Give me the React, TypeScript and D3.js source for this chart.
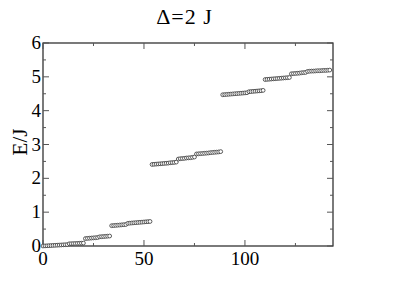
import React from 'react';
import * as d3 from 'd3';

// energy levels, one value per state index
const bandA = [0, 0.003, 0.006, 0.01, 0.013, 0.017, 0.02, 0.024, 0.027, 0.03, 0.034, 0.037, 0.04];
const bandA2 = [0.065, 0.068, 0.071, 0.074, 0.077, 0.08, 0.083, 0.086];
const bandB = [0.22, 0.225, 0.23, 0.235, 0.24, 0.245, 0.25];
const bandB2 = [0.27, 0.275, 0.28, 0.285, 0.29, 0.295];
const bandC = [0.6, 0.605, 0.61, 0.615, 0.62, 0.625, 0.63, 0.635];
const bandC2 = [0.67, 0.675, 0.68, 0.685, 0.69, 0.695, 0.7, 0.705, 0.71, 0.715, 0.72, 0.725];
const bandD = [2.41, 2.415, 2.42, 2.425, 2.43, 2.435, 2.44, 2.445, 2.45, 2.46, 2.465, 2.47, 2.48];
const bandD2 = [2.57, 2.58, 2.585, 2.59, 2.6, 2.605, 2.61, 2.62, 2.63];
const bandD3 = [2.72, 2.725, 2.73, 2.735, 2.74, 2.745, 2.75, 2.76, 2.765, 2.77, 2.775, 2.78, 2.79];
const bandE = [4.47, 4.475, 4.48, 4.485, 4.49, 4.495, 4.5, 4.505, 4.51, 4.515, 4.52, 4.525, 4.53];
const bandE2 = [4.56, 4.565, 4.57, 4.575, 4.58, 4.585, 4.59, 4.6];
const bandF = [4.92, 4.925, 4.93, 4.935, 4.94, 4.945, 4.95, 4.955, 4.96, 4.965, 4.97, 4.975, 4.98];
const bandG = [5.09, 5.095, 5.1, 5.105, 5.11, 5.12, 5.125, 5.13];
const bandG2 = [5.16, 5.165, 5.17, 5.17, 5.175, 5.18, 5.18, 5.185, 5.19, 5.19, 5.195, 5.2];

const energies = [
    ...bandA, ...bandA2, ...bandB, ...bandB2, ...bandC, ...bandC2, ...bandD,
    ...bandD2, ...bandD3, ...bandE, ...bandE2, ...bandF, ...bandG, ...bandG2,
];

const xTicks = [0, 50, 100];
const yTicks = [0, 1, 2, 3, 4, 5, 6];

const App = () => {
    const svgRef = React.useRef<SVGSVGElement>(null);

    const W = 399, H = 282;
    const margin = { top: 43, right: 66, bottom: 36, left: 43 };

    React.useEffect(() => {
        const svg = d3.select(svgRef.current);
        svg.selectAll('*').remove();

        const x = d3.scaleLinear().domain([0, 143.6]).range([margin.left, W - margin.right]);
        const y = d3.scaleLinear().domain([0, 6]).range([H - margin.bottom, margin.top]);
        const font = 'Liberation Serif, serif';
        const tickCol = '#555';

        // frame
        svg.append('rect')
            .attr('x', x(0)).attr('y', y(6))
            .attr('width', x(143.6) - x(0)).attr('height', y(0) - y(6))
            .attr('fill', 'none').attr('stroke', '#222').attr('stroke-width', 1.2);

        // x ticks (bottom + top, inward)
        d3.range(0, 143, 25).forEach((t) => {
            const len = t % 50 === 0 ? 6 : 3;
            svg.append('line').attr('x1', x(t)).attr('x2', x(t))
                .attr('y1', y(0)).attr('y2', y(0) - len).attr('stroke', tickCol);
            svg.append('line').attr('x1', x(t)).attr('x2', x(t))
                .attr('y1', y(6)).attr('y2', y(6) + len).attr('stroke', tickCol);
        });
        // y ticks (left + right, inward)
        d3.range(0, 6.01, 0.5).forEach((t) => {
            const len = t % 1 === 0 ? 6 : 3;
            svg.append('line').attr('y1', y(t)).attr('y2', y(t))
                .attr('x1', x(0)).attr('x2', x(0) + len).attr('stroke', tickCol);
            svg.append('line').attr('y1', y(t)).attr('y2', y(t))
                .attr('x1', x(143.6)).attr('x2', x(143.6) - len).attr('stroke', tickCol);
        });

        svg.append('g').selectAll('text').data(xTicks).enter().append('text')
            .attr('x', (d) => x(d)).attr('y', y(0) + 19)
            .attr('text-anchor', 'middle').style('font-family', font).style('font-size', '19px')
            .text((d) => d);

        svg.append('g').selectAll('text').data(yTicks).enter().append('text')
            .attr('x', x(0) - 2).attr('y', (d) => y(d) + 6)
            .attr('text-anchor', 'end').style('font-family', font).style('font-size', '19px')
            .text((d) => d);

        // points
        svg.append('g').selectAll('circle').data(energies).enter().append('circle')
            .attr('cx', (d, i) => x(i)).attr('cy', (d) => y(d)).attr('r', 1.9)
            .attr('fill', 'white').attr('stroke', '#333').attr('stroke-width', 0.8);

        svg.append('text')
            .attr('x', 184.5).attr('y', 24)
            .attr('text-anchor', 'middle').style('font-family', font).style('font-size', '22px')
            .style('letter-spacing', '1px')
            .text('Δ=2 J');

        svg.append('text')
            .attr('transform', `translate(27,142) rotate(-90)`)
            .attr('text-anchor', 'middle').style('font-family', font).style('font-size', '21px')
            .text('E/J');
    // eslint-disable-next-line react-hooks/exhaustive-deps
    }, []);

    return (
        <svg ref={svgRef} width={W} height={H}
            style={{ position: 'absolute', left: 0, top: 0, background: 'white', fontFamily: 'Liberation Serif, serif' }} />
    );
};

export default App;
